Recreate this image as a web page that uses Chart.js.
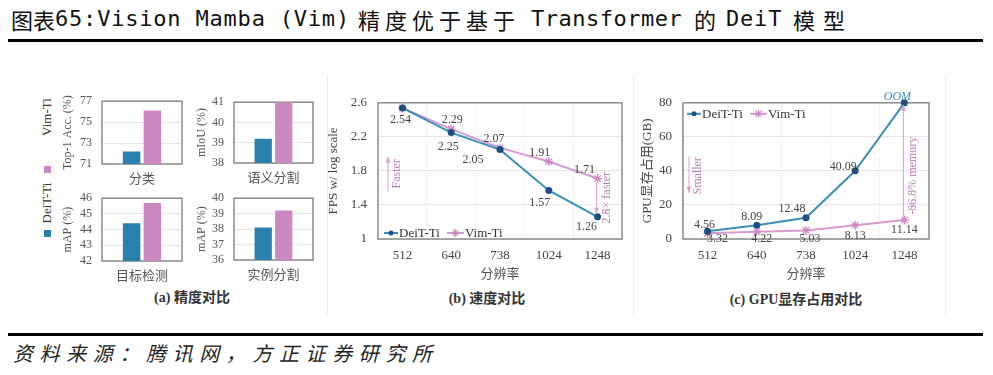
<!DOCTYPE html>
<html><head><meta charset="utf-8">
<script src="https://cdn.jsdelivr.net/npm/chart.js@4.4.1/dist/chart.umd.min.js"></script>
<style>
body{margin:0;width:993px;height:375px;background:#fff;position:relative;overflow:hidden;font-family:"Noto Sans CJK SC",sans-serif;}
.abs{position:absolute;white-space:nowrap;line-height:1;}
.box{position:absolute;}
.cn{font-family:"Noto Sans CJK SC";font-size:22px;color:#111;top:8px;}
.mono{font-family:"DejaVu Sans Mono";font-size:22px;letter-spacing:0.8px;color:#111;top:8px;}
.rot{transform:translate(-50%,-50%) rotate(-90deg);}
.cap{font-family:"Liberation Serif","Noto Sans CJK SC";font-weight:bold;font-size:14px;color:#333;transform:translate(-50%,-50%);}
</style></head><body>
<!-- title -->
<div class="abs cn" style="left:11px;">图表</div>
<div class="abs mono" style="left:55px;">65:Vision Mamba (Vim)</div>
<div class="abs cn" style="left:358px;letter-spacing:5px;">精度优于基于</div>
<div class="abs mono" style="left:531px;letter-spacing:0.5px;">Transformer</div>
<div class="abs cn" style="left:694px;">的</div>
<div class="abs mono" style="left:726px;">DeiT</div>
<div class="abs cn" style="left:793px;letter-spacing:8px;">模型</div>
<div class="abs" style="left:8px;top:39px;width:975px;height:3px;background:#000;"></div>
<!-- separators -->
<div class="abs" style="left:327px;top:75px;width:1px;height:240px;background:#eeeeee;"></div>
<div class="abs" style="left:633px;top:75px;width:1px;height:240px;background:#eeeeee;"></div>
<div class="abs" style="left:945px;top:75px;width:1px;height:240px;background:#eeeeee;"></div>
<!-- panel (a) legend -->
<div class="abs rot" style="left:47px;top:117px;font:13px 'Liberation Serif';color:#333;">Vim-Ti</div>
<div class="abs" style="left:44px;top:166px;width:7px;height:7px;background:#cc88c2;"></div>
<div class="abs rot" style="left:47px;top:203px;font:13px 'Liberation Serif';color:#333;">DeiT-Ti</div>
<div class="abs" style="left:44px;top:230px;width:7px;height:7px;background:#2b7fad;"></div>
<!-- captions -->
<div class="abs cap" style="left:192px;top:298px;">(a) 精度对比</div>
<div class="abs cap" style="left:487px;top:299px;">(b) 速度对比</div>
<div class="abs cap" style="left:796px;top:300px;">(c) GPU显存占用对比</div>
<!-- bottom rule & source -->
<div class="abs" style="left:8px;top:333px;width:975px;height:3px;background:#000;"></div>
<div class="abs" style="left:13px;top:343px;font-family:'Noto Sans CJK SC';font-style:italic;font-size:20px;letter-spacing:6.6px;color:#222;">资料来源：腾讯网，方正证券研究所</div>

<script>
// ---------- data ----------
const barCats = ['分类', '语义分割', '目标检测', '实例分割'];
const deitBar = [72.2, 39.2, 44.4, 38.1];
const vimBar = [76.1, 41.0, 45.7, 39.2];
const barYTitles = ['Top-1 Acc. (%)', 'mIoU (%)', 'mAP (%)', 'mAP (%)'];
const barYTicks = [[71, 73, 75, 77], [38, 39, 40, 41], [42, 43, 44, 45, 46], [36, 37, 38, 39, 40]];

const resolutions = ['512', '640', '738', '1024', '1248'];
const deitFps = [2.54, 2.25, 2.05, 1.57, 1.26];
const vimFps = [2.54, 2.29, 2.07, 1.91, 1.71];
const fpsTicks = [1, 1.4, 1.8, 2.2, 2.6];

const deitMem = [4.56, 8.09, 12.48, 40.09, 80];
const vimMem = [3.32, 4.22, 5.03, 8.13, 11.14];
const deitMemLabels = ['4.56', '8.09', '12.48', '40.09', 'OOM'];
const memTicks = [0, 20, 40, 60, 80];

const seriesNames = ['DeiT-Ti', 'Vim-Ti'];

// ---------- styles ----------
const C_DEIT_BAR = '#2b7fad', C_VIM_BAR = '#cc88c2';
const C_DEIT_LINE = '#3a8fbb', C_DEIT_PT = '#1f4f80';
const C_VIM_LINE = '#d99ad0', C_VIM_PT = '#cf86c4';
const C_ANN = '#b77db3';
const SERIF = "'Liberation Serif', serif";
const CJK = "'Noto Sans CJK SC', sans-serif";

const framePlugin = {
  id: 'frame',
  beforeDatasetsDraw(chart) {
    const { ctx, chartArea: a } = chart;
    ctx.save(); ctx.strokeStyle = '#8c8c8c'; ctx.lineWidth = 1.5;
    ctx.strokeRect(a.left, a.top, a.right - a.left, a.bottom - a.top);
    ctx.restore();
  }
};

function makeChart(plot, yw, xh, cfg, pt, pr) {
  pt = pt ?? 10; pr = pr ?? 6;
  const L = plot.l - yw, T = plot.t - pt, W = plot.r - plot.l + yw + pr, H = pt + plot.b - plot.t + xh;
  const div = document.createElement('div');
  div.className = 'box';
  Object.assign(div.style, { left: L + 'px', top: T + 'px', width: W + 'px', height: H + 'px' });
  const cv = document.createElement('canvas');
  cv.width = W; cv.height = H; cv.style.width = W + 'px'; cv.style.height = H + 'px';
  div.appendChild(cv); document.body.appendChild(div);
  cfg.options.responsive = false;
  cfg.options.animation = false;
  cfg.options.devicePixelRatio = 1;
  cfg.options.layout = { padding: { top: pt, right: pr, left: 0, bottom: 0 } };
  cfg.options.scales.x.afterFit = s => { s.height = xh; };
  cfg.options.scales.y.afterFit = s => { s.width = yw; };
  cfg.plugins = (cfg.plugins || []).concat([framePlugin]);
  return new Chart(cv, cfg);
}

// ---------- panel (a) bar charts ----------
const barPlots = [
  { l: 102, t: 94, r: 182, b: 164 },
  { l: 234, t: 95, r: 313, b: 163 },
  { l: 102, t: 191, r: 182, b: 261 },
  { l: 234, t: 191, r: 313, b: 260 }
];
const barYw = [45, 43, 45, 43];
barCats.forEach((cat, k) => {
  const ticks = barYTicks[k];
  makeChart(barPlots[k], barYw[k], 28, {
    type: 'bar',
    data: {
      labels: [cat],
      datasets: [
        { label: seriesNames[0], data: [deitBar[k]], backgroundColor: C_DEIT_BAR, categoryPercentage: 0.52, barPercentage: 0.84 },
        { label: seriesNames[1], data: [vimBar[k]], backgroundColor: C_VIM_BAR, categoryPercentage: 0.52, barPercentage: 0.84 }
      ]
    },
    options: {
      plugins: { legend: { display: false }, tooltip: { enabled: false } },
      scales: {
        x: {
          grid: { display: false, drawTicks: false }, border: { display: false },
          ticks: { color: '#555', font: { family: CJK, size: 13 }, padding: 6 }
        },
        y: {
          min: ticks[0], max: ticks[ticks.length - 1],
          afterBuildTicks: s => { s.ticks = ticks.map(v => ({ value: v })); },
          grid: { color: '#e6e6e6', drawTicks: false }, border: { display: false },
          ticks: { color: '#555', font: { family: SERIF, size: 12 }, padding: 10, autoSkip: false, callback: v => String(v) },
          title: { display: true, text: barYTitles[k], color: '#555', font: { family: SERIF, size: 12 } }
        }
      }
    }
  });
});

// ---------- helpers for line panels ----------
function arrow(ctx, x, y1, y2, color) {
  ctx.save(); ctx.strokeStyle = color; ctx.fillStyle = color; ctx.lineWidth = 1;
  ctx.beginPath(); ctx.moveTo(x, y1); ctx.lineTo(x, y2); ctx.stroke();
  const d = y2 < y1 ? 1 : -1;
  ctx.beginPath(); ctx.moveTo(x, y2); ctx.lineTo(x - 2.5, y2 + d * 6); ctx.lineTo(x + 2.5, y2 + d * 6); ctx.closePath(); ctx.fill();
  ctx.restore();
}
function vtext(ctx, txt, x, y, color, font) {
  ctx.save(); ctx.translate(x, y); ctx.rotate(-Math.PI / 2);
  ctx.fillStyle = color; ctx.font = font; ctx.textAlign = 'center'; ctx.textBaseline = 'middle';
  ctx.fillText(txt, 0, 0); ctx.restore();
}
function drawLegend(ctx, x, y) {
  ctx.save();
  ctx.font = "13px 'Liberation Serif'"; ctx.textBaseline = 'middle'; ctx.fillStyle = '#333';
  ctx.strokeStyle = C_DEIT_LINE; ctx.lineWidth = 2;
  ctx.beginPath(); ctx.moveTo(x, y); ctx.lineTo(x + 14, y); ctx.stroke();
  ctx.fillStyle = C_DEIT_PT; ctx.beginPath(); ctx.arc(x + 7, y, 2.5, 0, Math.PI * 2); ctx.fill();
  ctx.fillStyle = '#333'; ctx.fillText(seriesNames[0], x + 15, y + 1);
  const x2 = x + 15 + ctx.measureText(seriesNames[0]).width + 7;
  ctx.strokeStyle = C_VIM_LINE;
  ctx.beginPath(); ctx.moveTo(x2, y); ctx.lineTo(x2 + 17, y); ctx.stroke();
  ctx.strokeStyle = C_VIM_PT; ctx.lineWidth = 1.2;
  for (let i = 0; i < 4; i++) {
    const a = i * Math.PI / 4;
    ctx.beginPath(); ctx.moveTo(x2 + 8.5 - 4 * Math.cos(a), y - 4 * Math.sin(a)); ctx.lineTo(x2 + 8.5 + 4 * Math.cos(a), y + 4 * Math.sin(a)); ctx.stroke();
  }
  ctx.fillStyle = '#333'; ctx.fillText(seriesNames[1], x2 + 18, y + 1);
  ctx.restore();
}
function lineOptions(ticks, title) {
  return {
    plugins: { legend: { display: false }, tooltip: { enabled: false } },
    scales: {
      x: {
        offset: true,
        grid: { display: true, offset: true, color: '#f3f3f3', drawTicks: false }, border: { display: false },
        ticks: { color: '#444', font: { family: SERIF, size: 13 }, padding: 9 },
        title: { display: true, text: '分辨率', color: '#555', font: { family: CJK, size: 13 } }
      },
      y: {
        min: ticks[0], max: ticks[ticks.length - 1],
        afterBuildTicks: s => { s.ticks = ticks.map(v => ({ value: v })); },
        grid: { color: '#e6e6e6', drawTicks: false }, border: { display: false },
        ticks: { color: '#444', font: { family: SERIF, size: 13 }, padding: 11, autoSkip: false, callback: v => String(v) },
        title: { display: true, text: title, color: '#444', font: { family: title.includes('GPU') ? "'Liberation Serif','Noto Sans CJK SC'" : SERIF, size: 13 } }
      }
    }
  };
}
function lineDatasets(d1, d2) {
  return [
    { label: seriesNames[0], data: d1, borderColor: C_DEIT_LINE, borderWidth: 2, pointStyle: 'circle', pointRadius: 2.5, pointBackgroundColor: C_DEIT_PT, pointBorderColor: C_DEIT_PT, tension: 0, clip: false, order: 1 },
    { label: seriesNames[1], data: d2, borderColor: C_VIM_LINE, borderWidth: 2, pointStyle: 'star', pointRadius: 4.5, pointBorderWidth: 1.3, pointBorderColor: C_VIM_PT, pointBackgroundColor: C_VIM_PT, tension: 0, clip: false, order: 2 }
  ];
}
function labelPlugin(specs) {
  return {
    id: 'vlabels',
    afterDatasetsDraw(chart) {
      const { ctx } = chart;
      ctx.save(); ctx.textAlign = 'center'; ctx.textBaseline = 'middle';
      specs.forEach(s => {
        const pt = chart.getDatasetMeta(s.ds).data[s.i];
        ctx.font = s.font || "12px 'Liberation Serif'";
        ctx.fillStyle = s.color || '#444';
        ctx.fillText(s.text, pt.x + s.dx, pt.y + s.dy);
      });
      ctx.restore();
    }
  };
}

// ---------- panel (b) ----------
const fpsLabelSpecs = [
  { ds: 0, i: 0, text: deitFps[0].toFixed(2), dx: -2, dy: 12 },
  { ds: 0, i: 1, text: deitFps[1].toFixed(2), dx: -3, dy: 14 },
  { ds: 0, i: 2, text: deitFps[2].toFixed(2), dx: -27, dy: 10 },
  { ds: 0, i: 3, text: deitFps[3].toFixed(2), dx: -9, dy: 12 },
  { ds: 0, i: 4, text: deitFps[4].toFixed(2), dx: -11, dy: 10 },
  { ds: 1, i: 1, text: vimFps[1].toFixed(2), dx: 1, dy: -9 },
  { ds: 1, i: 2, text: vimFps[2].toFixed(2), dx: -6, dy: -9 },
  { ds: 1, i: 3, text: vimFps[3].toFixed(2), dx: -9, dy: -9 },
  { ds: 1, i: 4, text: vimFps[4].toFixed(2), dx: -13, dy: -9 }
];
makeChart({ l: 378, t: 94, r: 622, b: 239 }, 56, 46, {
  type: 'line',
  data: { labels: resolutions, datasets: lineDatasets(deitFps, vimFps) },
  options: lineOptions(fpsTicks, 'FPS w/ log scale'),
  plugins: [labelPlugin(fpsLabelSpecs), {
    id: 'annB',
    afterDatasetsDraw(chart) {
      const { ctx, chartArea: a } = chart;
      const m0 = chart.getDatasetMeta(0).data, m1 = chart.getDatasetMeta(1).data;
      drawLegend(ctx, a.left + 6, a.bottom - 6);
      arrow(ctx, a.left + 10, a.top + 89, a.top + 54, '#d9a2cf');
      vtext(ctx, 'Faster', a.left + 19, a.top + 71, C_ANN, "12px 'Liberation Serif'");
      const p1 = m1[4], p0 = m0[4];
      arrow(ctx, p1.x - 1, p1.y + 4, p0.y - 3, '#d9a2cf');
      vtext(ctx, '2.8× faster', p1.x + 9, (p1.y + p0.y) / 2, C_ANN, "12px 'Liberation Serif'");
    }
  }]
});

// ---------- panel (c) ----------
const memLabelSpecs = [
  { ds: 0, i: 0, text: deitMemLabels[0], dx: -3, dy: -6 },
  { ds: 0, i: 1, text: deitMemLabels[1], dx: -5, dy: -8 },
  { ds: 0, i: 2, text: deitMemLabels[2], dx: -14, dy: -9 },
  { ds: 0, i: 3, text: deitMemLabels[3], dx: -12, dy: -4 },
  { ds: 0, i: 4, text: deitMemLabels[4], dx: -7, dy: -6, color: '#3a8fbb', font: "italic 12px 'Liberation Serif'" },
  { ds: 1, i: 0, text: vimMem[0].toFixed(2), dx: 10, dy: 5 },
  { ds: 1, i: 1, text: vimMem[1].toFixed(2), dx: 5, dy: 7 },
  { ds: 1, i: 2, text: vimMem[2].toFixed(2), dx: 4, dy: 8 },
  { ds: 1, i: 3, text: vimMem[3].toFixed(2), dx: 0, dy: 11 },
  { ds: 1, i: 4, text: vimMem[4].toFixed(2), dx: 0, dy: 10 }
];
makeChart({ l: 683, t: 94, r: 929, b: 239 }, 47, 46, {
  type: 'line',
  data: { labels: resolutions, datasets: lineDatasets(deitMem, vimMem) },
  options: lineOptions(memTicks, 'GPU显存占用(GB)'),
  plugins: [labelPlugin(memLabelSpecs), {
    id: 'annC',
    afterDatasetsDraw(chart) {
      const { ctx, chartArea: a } = chart;
      const m1 = chart.getDatasetMeta(1).data;
      drawLegend(ctx, a.left + 4, a.top + 11);
      arrow(ctx, a.left + 6, a.top + 53, a.top + 90, '#d9a2cf');
      vtext(ctx, 'Smaller', a.left + 15, a.top + 73, C_ANN, "12px 'Liberation Serif'");
      const p1 = m1[4];
      arrow(ctx, p1.x - 1, p1.y - 2, a.top + 2, '#d9a2cf');
      vtext(ctx, '-86.8% memory', p1.x + 8, a.top + 73, C_ANN, "12px 'Liberation Serif'");
    }
  }]
});
</script>
</body></html>
